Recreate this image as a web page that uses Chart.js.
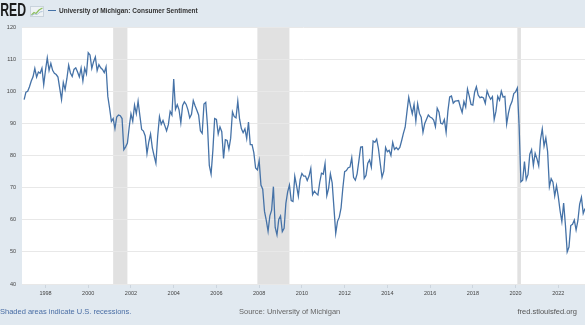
<!DOCTYPE html>
<html lang="en">
<head>
  <meta charset="UTF-8">
  <title>University of Michigan: Consumer Sentiment</title>
  <style>
    html, body { margin: 0; padding: 0; }
    body {
      width: 585px; height: 325px; overflow: hidden; position: relative;
      background: #e1e9f0; font-family: "Liberation Sans", Arial, sans-serif;
    }
    #chart { position: absolute; left: 0; top: 0; }
    .logo {
      position: absolute; left: -60px; top: 1px; width: 86px; text-align: right;
      font-size: 18px; font-weight: bold; line-height: 18px; color: #1b1b1b;
    }
    .logo span { display: inline-block; transform: scaleX(0.68); transform-origin: right center; }
    .icon { position: absolute; left: 30px; top: 6px; }
    .legend {
      position: absolute; left: 48px; top: 6px; line-height: 10px;
      font-size: 6.5px; font-weight: bold; color: #333;
    }
    .legend i {
      display: inline-block; width: 8px; height: 1.5px; background: #4572a7;
      vertical-align: middle; margin-right: 3px; position: relative; top: -1px;
    }
    .foot { position: absolute; top: 307px; line-height: 10px; font-size: 7.5px; white-space: nowrap; }
    .foot.note { left: 0; color: #4a6ea5; }
    .foot.source { left: 239px; color: #666; }
    .foot.site { right: 8px; color: #555; }
  </style>
</head>
<body>
  <canvas id="chart" width="585" height="325"></canvas>
  <div class="logo"><span>FRED</span></div>
  <svg class="icon" width="14" height="11" viewBox="0 0 14 11">
    <rect x="0.5" y="0.5" width="13" height="10" fill="#eef2f5" stroke="#c9d3dc" stroke-width="1"/>
    <polyline points="1.5,9 4,6.5 6,7.5 9,4 12.5,2" fill="none" stroke="#8bbf5a" stroke-width="1.2"/>
    <polyline points="1.5,9.5 4.5,8 7,8.5 10,6 12.5,5.5" fill="none" stroke="#9fb8d0" stroke-width="0.8"/>
  </svg>
  <div class="legend"><i></i>University of Michigan: Consumer Sentiment</div>
  <div class="foot note">Shaded areas indicate U.S. recessions.</div>
  <div class="foot source">Source: University of Michigan</div>
  <div class="foot site">fred.stlouisfed.org</div>

  <script src="https://cdn.jsdelivr.net/npm/chart.js"></script>
  <script>
    // monthly index values, starting January 1997
    const firstYear = 1997;
    const sentiment = [
      97.4, 99.7, 100.0, 101.4, 103.2, 104.5, 107.1, 104.4, 106.0, 105.6, 107.2, 102.1,
      106.6, 110.4, 106.5, 108.7, 106.5, 105.6, 105.2, 104.4, 100.9, 97.4, 102.7, 100.5,
      103.9, 108.1, 105.7, 104.6, 106.8, 107.3, 106.0, 104.5, 107.2, 103.2, 107.2, 105.4,
      112.0, 111.3, 107.1, 109.2, 110.7, 106.4, 108.3, 107.3, 106.8, 105.8, 107.6, 98.4,
      94.7, 90.6, 91.5, 88.4, 92.0, 92.6, 92.4, 91.5, 81.8, 82.7, 83.9, 88.8,
      93.0, 90.7, 95.7, 93.0, 96.9, 92.4, 88.1, 87.6, 86.1, 80.6, 84.2, 86.7,
      82.4, 79.9, 77.6, 86.0, 92.1, 89.7, 90.9, 89.3, 87.7, 89.6, 93.7, 92.6,
      103.8, 94.4, 95.8, 94.2, 90.2, 95.6, 96.7, 95.9, 94.2, 91.7, 92.8, 97.1,
      95.5, 94.1, 92.6, 87.7, 86.9, 96.0, 96.5, 89.1, 76.9, 74.2, 81.6, 91.5,
      91.2, 86.7, 88.9, 87.4, 79.1, 84.9, 84.7, 82.0, 85.4, 93.6, 92.1, 91.7,
      96.9, 91.3, 88.4, 87.1, 88.3, 85.3, 90.4, 83.4, 83.4, 80.9, 76.1, 75.5,
      78.4, 70.8, 69.5, 62.6, 59.8, 56.4, 61.2, 63.0, 70.3, 57.6, 55.3, 60.1,
      61.2, 56.3, 57.3, 65.1, 68.7, 70.8, 66.0, 65.7, 73.5, 70.6, 67.4, 72.5,
      74.4, 73.6, 73.6, 72.2, 73.6, 76.0, 67.8, 68.9, 68.2, 67.7, 71.6, 74.5,
      74.2, 77.5, 67.5, 69.8, 74.3, 71.5, 63.7, 55.8, 59.5, 60.8, 63.7, 69.9,
      75.0, 75.3, 76.2, 76.4, 79.3, 73.2, 72.3, 74.3, 78.3, 82.6, 82.7, 72.9,
      73.8, 77.6, 78.6, 76.4, 84.5, 84.1, 85.1, 82.1, 77.5, 73.2, 75.1, 82.5,
      81.2, 81.6, 80.0, 84.1, 81.9, 82.5, 81.8, 82.5, 84.6, 86.9, 88.8, 93.6,
      98.1, 95.4, 93.0, 95.9, 90.7, 96.1, 93.1, 91.9, 87.2, 90.0, 91.3, 92.6,
      92.0, 91.7, 91.0, 89.0, 94.7, 93.5, 90.0, 89.8, 91.2, 87.2, 93.8, 98.2,
      98.5, 96.3, 96.9, 97.0, 97.1, 95.1, 93.4, 96.8, 95.1, 100.7, 98.5, 95.9,
      95.7, 99.7, 101.4, 98.8, 98.0, 98.2, 97.9, 96.2, 100.1, 98.6, 97.5, 98.3,
      91.2, 93.8, 98.4, 97.2, 100.0, 98.2, 98.4, 89.8, 93.2, 95.5, 96.8, 99.3,
      99.8, 101.0, 89.1, 71.8, 72.3, 78.1, 72.5, 74.1, 80.4, 81.8, 76.9, 80.7,
      79.0, 76.8, 84.9, 88.3, 82.9, 85.5, 81.2, 70.3, 72.8, 71.7, 67.4, 70.6,
      67.2, 62.8, 59.4, 65.2, 58.4, 50.0, 51.5, 58.2, 58.6, 59.9, 56.8, 59.7,
      64.9, 67.0, 62.0, 63.5
    ];

    // recession periods (first and last month)
    const recessionStarts = ['2001-03', '2007-12', '2020-02'];
    const recessionEnds = ['2001-11', '2009-06', '2020-04'];

    const yearTicks = [1998, 2000, 2002, 2004, 2006, 2008, 2010, 2012, 2014, 2016, 2018, 2020, 2022];
    const valueTicks = [40, 50, 60, 70, 80, 90, 100, 110, 120];

    const toYear = (ym) => {
      const [y, m] = ym.split('-').map(Number);
      return y + (m - 1) / 12;
    };

    const points = sentiment.map((v, i) => ({ x: firstYear + i / 12, y: v }));

    // white plot area with grey recession bars behind the grid
    const plotBackdrop = {
      id: 'plotBackdrop',
      beforeDraw(chart) {
        const { ctx, chartArea: a, scales: { x } } = chart;
        ctx.save();
        ctx.fillStyle = '#ffffff';
        ctx.fillRect(a.left, a.top, a.right - a.left, a.bottom - a.top);
        ctx.fillStyle = '#e1e1e1';
        recessionStarts.forEach((s, i) => {
          const x0 = x.getPixelForValue(toYear(s));
          const x1 = x.getPixelForValue(toYear(recessionEnds[i]));
          ctx.fillRect(x0, a.top, x1 - x0, a.bottom - a.top);
        });
        ctx.restore();
      }
    };

    const tickFont = { family: '"Liberation Sans", Arial, sans-serif', size: 5.5 };

    new Chart(document.getElementById('chart'), {
      type: 'line',
      data: {
        datasets: [{
          label: 'University of Michigan: Consumer Sentiment',
          data: points,
          borderColor: '#4572a7',
          borderWidth: 1.3,
          pointRadius: 0,
          tension: 0,
          fill: false
        }]
      },
      options: {
        responsive: false,
        animation: false,
        devicePixelRatio: 1,
        layout: { padding: { top: 27, bottom: 25, left: 0, right: 0 } },
        plugins: { legend: { display: false }, tooltip: { enabled: false } },
        scales: {
          x: {
            type: 'linear',
            min: 1996.9,
            max: 2023.25,
            afterBuildTicks: (axis) => { axis.ticks = yearTicks.map(v => ({ value: v })); },
            afterFit: (axis) => { axis.height = 16; },
            ticks: {
              callback: (v) => String(v),
              font: tickFont, color: '#444', padding: 2, maxRotation: 0, autoSkip: false
            },
            grid: { drawOnChartArea: false, tickLength: 4, tickColor: '#ccd5de' },
            border: { display: false }
          },
          y: {
            min: 40,
            max: 120,
            afterBuildTicks: (axis) => { axis.ticks = valueTicks.map(v => ({ value: v })); },
            afterFit: (axis) => { axis.width = 22; },
            ticks: { font: tickFont, color: '#444', padding: 6 },
            grid: { color: '#e8e8e8', drawTicks: false },
            border: { display: false }
          }
        }
      },
      plugins: [plotBackdrop]
    });
  </script>
</body>
</html>
